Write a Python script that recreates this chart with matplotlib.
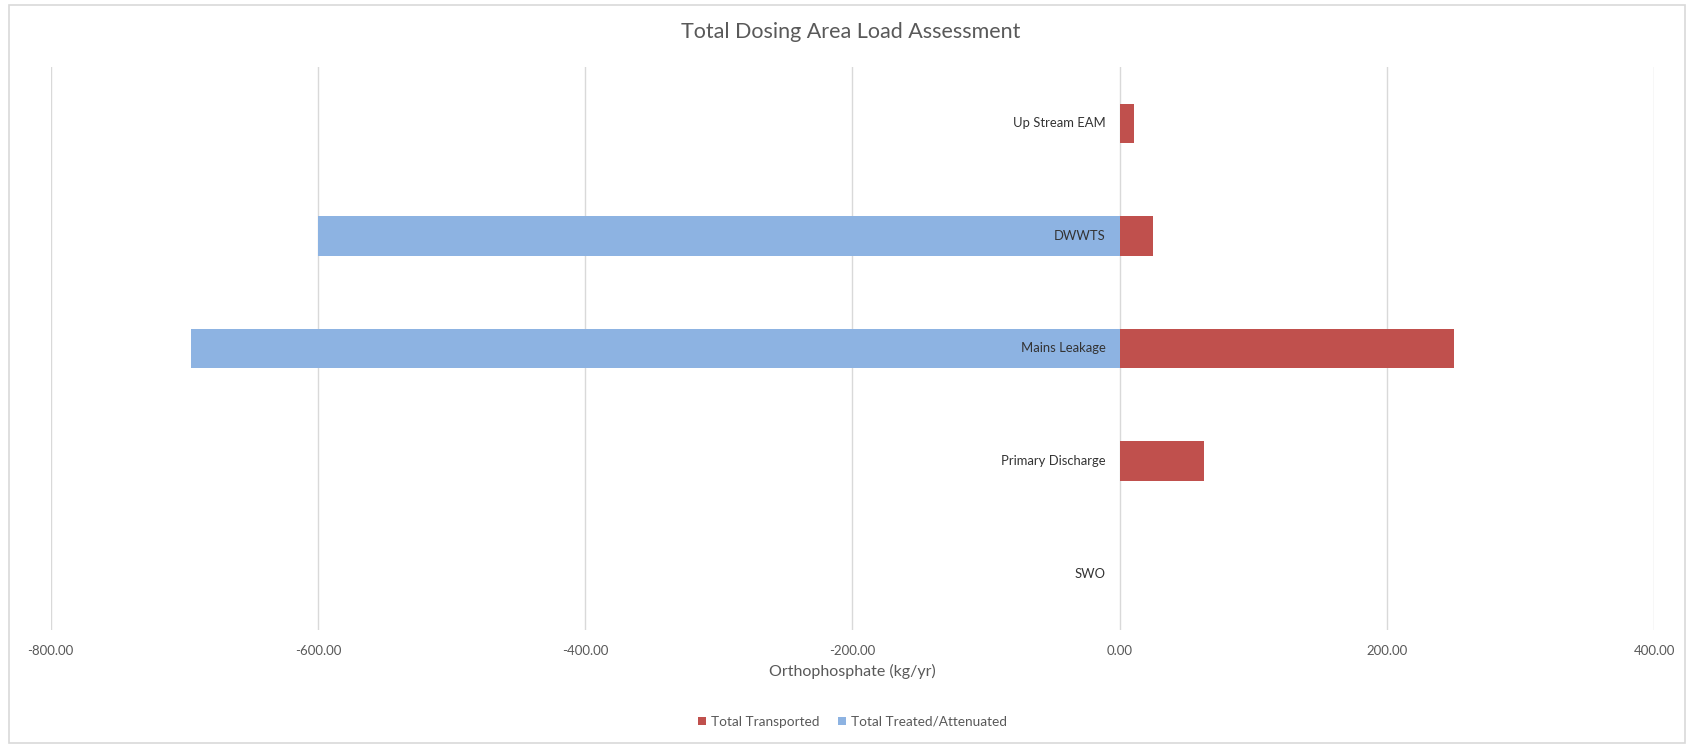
import matplotlib
matplotlib.use("Agg")
import matplotlib.pyplot as plt
from matplotlib.patches import Rectangle
from matplotlib.ticker import FuncFormatter

plt.rcParams['font.family'] = ['Lato', 'DejaVu Sans']

# load categories, top to bottom
categories = ["Up Stream EAM", "DWWTS", "Mains Leakage", "Primary Discharge", "SWO"]
# kg/yr orthophosphate
transported = [11, 25, 250, 63, 0]
treated = [0, -600, -695, 0, 0]

series_names = ["Total Transported", "Total Treated/Attenuated"]
red = '#C0504D'
blue = '#8DB3E2'
grey = '#595959'

fig = plt.figure(figsize=(16.88, 7.45), dpi=100)
ax = fig.add_axes([0.030, 0.1544, 0.9500, 0.7557])

# chart area border
fig.patches.append(Rectangle((0.0053, 0.0027), 0.9930, 0.9906, transform=fig.transFigure,
                             fill=False, edgecolor='#D9D9D9', linewidth=1.2))

y = list(range(len(categories)))
ax.barh(y, transported, height=0.35, color=red, label=series_names[0], zorder=2)
ax.barh(y, treated, height=0.35, color=blue, label=series_names[1], zorder=2)

ax.set_xlim(-800, 400)
ax.set_ylim(-0.5, len(categories) - 0.5)
ax.invert_yaxis()
ax.set_xticks(range(-800, 401, 200))
ax.xaxis.set_major_formatter(FuncFormatter(lambda v, p: f"{v:.2f}"))
ax.tick_params(axis='x', length=0, pad=11, labelsize=9.5, labelcolor=grey)
ax.set_yticks([])
ax.grid(axis='x', color='#D9D9D9', linewidth=1, zorder=0)
ax.set_axisbelow(True)
for s in ax.spines.values():
    s.set_visible(False)

# category names sit next to the zero line, over the bars
for i, name in enumerate(categories):
    ax.annotate(name, (0, i), xytext=(-10, 0), textcoords='offset points',
                ha='right', va='center', fontsize=9.4, color='#333333', zorder=5)

ax.set_xlabel("Orthophosphate (kg/yr)", fontsize=11.5, color=grey, labelpad=5)
fig.text(0.504, 0.957, "Total Dosing Area Load Assessment", ha='center', va='center',
         fontsize=15.5, color=grey)

ax.legend(loc='center', bbox_to_anchor=(0.505, 0.031), bbox_transform=fig.transFigure,
          ncol=2, frameon=False, fontsize=9.8, labelcolor=grey, handlelength=0.6,
          handleheight=0.6, handletextpad=0.4, columnspacing=1.3)

fig.savefig("out.png", dpi=100)
